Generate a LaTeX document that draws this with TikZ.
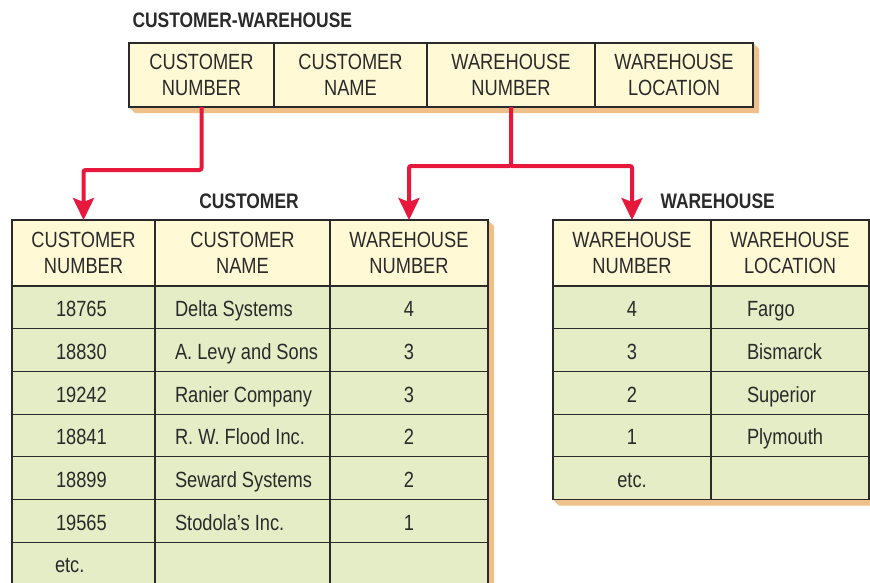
\documentclass[tikz,border=0pt]{standalone}
\usepackage{fontspec}
\setmainfont{Liberation Sans}[FakeStretch=0.83]
\usetikzlibrary{arrows.meta, positioning, calc}
\definecolor{HeadYellow}{HTML}{FFF9D6}
\definecolor{RowGreen}{HTML}{E4EDC6}
\definecolor{ShadowTan}{HTML}{F0C08A}
\definecolor{LinkRed}{HTML}{E8173C}
\definecolor{InkGrey}{HTML}{2A2A2A}
% left-set text inside a centred box
\newcommand{\leftin}[2]{\makebox[#1][l]{#2}}

\begin{document}
\begin{tikzpicture}[x=1pt, y=-1pt, >=Stealth,
    cell/.style={draw=InkGrey, line width=1.2pt, anchor=north west,
                 inner sep=0pt, outer sep=0pt, text=InkGrey, align=center,
                 font=\fontsize{22}{26}\selectfont},
    hcell/.style={cell, fill=HeadYellow, minimum height=64pt},
    dcell/.style={cell, fill=RowGreen, minimum height=42.7pt,
                  text height=20pt, text depth=1.5pt},
    title/.style={anchor=base west, text=InkGrey,
                  font=\fontsize{21}{26}\selectfont\bfseries},
    shade/.style={fill=ShadowTan, draw=none},
    link/.style={draw=LinkRed, line width=4pt, rounded corners=2pt,
                 -{Stealth[length=22pt, width=21pt, inset=4pt]}}]
  \useasboundingbox (0,0) rectangle (870,582);
  % Shadows
  \fill[shade] (129,107) -- (135,113) -- (759,113) -- (759,49) -- (753,43) -- cycle;
  \fill[shade] (12,585) -- (18,591) -- (494,591) -- (494,226) -- (488,220) -- cycle;
  \fill[shade] (553,499.5) -- (559,505.5) -- (876,505.5) -- (876,226) -- (869,220) -- cycle;
  % CUSTOMER-WAREHOUSE
  \node[title] (cwtitle) at (129,27) {CUSTOMER-WAREHOUSE};
  \node[hcell, minimum width=145pt] (cw1) at (129,43) {CUSTOMER\\NUMBER};
  \node[hcell, minimum width=153pt] (cw2) at (274,43) {CUSTOMER\\NAME};
  \node[hcell, minimum width=168pt] (cw3) at (427,43) {WAREHOUSE\\NUMBER};
  \node[hcell, minimum width=158pt] (cw4) at (595,43) {WAREHOUSE\\LOCATION};
  % CUSTOMER
  \node[title, anchor=base] (ctitle) at (249,208) {CUSTOMER};
  \node[hcell, minimum height=66pt, minimum width=143pt] (ch1) at (12,220) {CUSTOMER\\NUMBER};
  \node[hcell, minimum height=66pt, minimum width=175pt] (ch2) at (155,220) {CUSTOMER\\NAME};
  \node[hcell, minimum height=66pt, minimum width=158pt] (ch3) at (330,220) {WAREHOUSE\\NUMBER};
  \foreach \num/\name/\wh [count=\i from 0] in {18765/Delta Systems/4,
      18830/A. Levy and Sons/3, 19242/Ranier Company/3,
      18841/R. W. Flood Inc./2, 18899/Seward Systems/2,
      19565/Stodola’s Inc./1} {
    \node[dcell, minimum width=143pt] (c-\i-1) at (12,286+42.7*\i) {\leftin{55pt}{\num}};
    \node[dcell, minimum width=175pt] (c-\i-2) at (155,286+42.7*\i) {\leftin{135pt}{\name}};
    \node[dcell, minimum width=158pt] (c-\i-3) at (330,286+42.7*\i) {\wh};
  }
  \node[dcell, minimum width=143pt] (c-6-1) at (12,542.2) {\leftin{57pt}{etc.}};
  \node[dcell, minimum width=175pt] (c-6-2) at (155,542.2) {};
  \node[dcell, minimum width=158pt] (c-6-3) at (330,542.2) {};
  % WAREHOUSE
  \node[title] (wtitle) at (657,208) {WAREHOUSE};
  \node[hcell, minimum height=66pt, minimum width=158pt] (wh1) at (553,220) {WAREHOUSE\\NUMBER};
  \node[hcell, minimum height=66pt, minimum width=158pt] (wh2) at (711,220) {WAREHOUSE\\LOCATION};
  \foreach \wh/\loc [count=\i from 0] in {4/Fargo, 3/Bismarck, 2/Superior, 1/Plymouth} {
    \node[dcell, minimum width=158pt] (w-\i-1) at (553,286+42.7*\i) {\wh};
    \node[dcell, minimum width=158pt] (w-\i-2) at (711,286+42.7*\i) {\leftin{86pt}{\loc}};
  }
  \node[dcell, minimum width=158pt] (w-4-1) at (553,456.8) {etc.};
  \node[dcell, minimum width=158pt] (w-4-2) at (711,456.8) {};
  % Links
  \draw[link] (cw1.south) -- ++(0,63) -| (ch1.north);
  \coordinate (split) at ($(cw3.south)+(0,59)$);
  \draw[link] (cw3.south) -- (split) -| (ch3.north);
  \draw[link] (split) -| (wh1.north);
\end{tikzpicture}
\end{document}
